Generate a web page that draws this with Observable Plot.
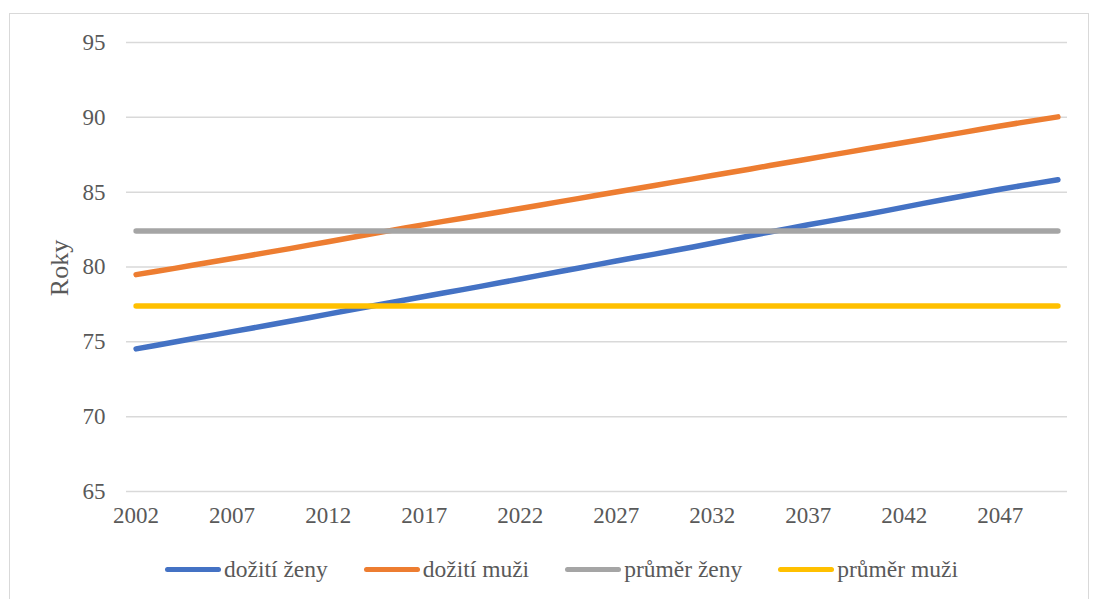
<!DOCTYPE html>
<html>
<head>
<meta charset="utf-8">
<script src="https://cdn.jsdelivr.net/npm/d3@7"></script>
<script src="https://cdn.jsdelivr.net/npm/@observablehq/plot@0.6"></script>
<style>
  html, body { margin: 0; padding: 0; background: #fff; }
  body { width: 1097px; height: 599px; position: relative; overflow: hidden;
         font-family: "Liberation Serif", "Times New Roman", serif; color: #595959; }
  #frame { position: absolute; left: 9px; top: 13px; width: 1078px; height: 600px;
           border-left: 1.5px solid #d9d9d9; border-top: 1.5px solid #d9d9d9; border-right: 1.5px solid #d9d9d9; }
  #chart { position: absolute; left: 0; top: 0; }
  #ylabel { position: absolute; left: 60px; top: 268px; font-size: 26px;
            transform: translate(-50%, -50%) rotate(-90deg); white-space: nowrap; }
  #legend { position: absolute; left: 165px; top: 556px; display: flex; gap: 36px; font-size: 23.5px; }
  .item { display: flex; align-items: center; gap: 3px; }
  .sw { width: 56px; height: 5px; border-radius: 3px; }
</style>
</head>
<body>
<div id="frame"></div>
<div id="chart"></div>
<div id="ylabel">Roky</div>
<div id="legend"></div>
<script>
// Years of the projection
const years = d3.range(2002, 2051);

// Projected life expectancy, women
const dozitiZeny = [
  74.53, 74.76, 74.99, 75.22, 75.45, 75.68, 75.91, 76.14, 76.37, 76.61,
  76.85, 77.09, 77.33, 77.56, 77.79, 78.03, 78.26, 78.49, 78.72, 78.96,
  79.20, 79.44, 79.68, 79.92, 80.16, 80.40, 80.63, 80.86, 81.10, 81.34,
  81.59, 81.84, 82.09, 82.34, 82.58, 82.82, 83.05, 83.28, 83.51, 83.75,
  84.00, 84.25, 84.49, 84.73, 84.96, 85.19, 85.41, 85.62, 85.83
];
// Projected life expectancy, men
const dozitiMuzi = [
  79.49, 79.70, 79.91, 80.13, 80.35, 80.57, 80.79, 81.01, 81.23, 81.46,
  81.69, 81.92, 82.15, 82.38, 82.61, 82.83, 83.05, 83.26, 83.47, 83.69,
  83.91, 84.13, 84.35, 84.57, 84.79, 85.01, 85.23, 85.45, 85.67, 85.89,
  86.11, 86.33, 86.55, 86.78, 87.00, 87.22, 87.44, 87.66, 87.88, 88.10,
  88.32, 88.54, 88.76, 88.98, 89.20, 89.42, 89.63, 89.83, 90.03
];
// Averages (constant over the period)
const prumerZeny = 82.4;
const prumerMuzi = 77.4;

const seriesNames = ["dožití ženy", "dožití muži", "průměr ženy", "průměr muži"];
const seriesColors = ["#4472C4", "#ED7D31", "#A5A5A5", "#FFC000"];

const xTicks = d3.range(2002, 2050, 5);
const yTicks = [65, 70, 75, 80, 85, 90, 95];

const rows = [];
years.forEach((y, i) => {
  rows.push({year: y, value: dozitiZeny[i], series: seriesNames[0]});
  rows.push({year: y, value: dozitiMuzi[i], series: seriesNames[1]});
  rows.push({year: y, value: prumerZeny, series: seriesNames[2]});
  rows.push({year: y, value: prumerMuzi, series: seriesNames[3]});
});

const chart = Plot.plot({
  width: 1097,
  height: 545,
  marginLeft: 126,
  marginRight: 30,
  marginTop: 42,
  marginBottom: 54,
  style: {fontFamily: "'Liberation Serif', 'Times New Roman', serif", fontSize: "23px", color: "#595959", background: "transparent"},
  x: {domain: [2001.5, 2050.5]},
  y: {domain: [65, 95]},
  color: {domain: seriesNames, range: seriesColors},
  marks: [
    Plot.gridY(yTicks, {stroke: "#d9d9d9", strokeOpacity: 1, strokeWidth: 1.5}),
    Plot.axisY(yTicks, {tickSize: 0, tickPadding: 21, label: null, fill: "#595959"}),
    Plot.axisX(xTicks, {tickSize: 0, tickPadding: 15, label: null, tickFormat: d => String(d), fill: "#595959"}),
    Plot.line(rows, {x: "year", y: "value", z: "series", stroke: "series", strokeWidth: 5.5, strokeLinecap: "round", strokeLinejoin: "round"})
  ]
});
document.getElementById("chart").appendChild(chart);

const legend = document.getElementById("legend");
seriesNames.forEach((name, i) => {
  const item = document.createElement("div");
  item.className = "item";
  const sw = document.createElement("div");
  sw.className = "sw";
  sw.style.background = seriesColors[i];
  const label = document.createElement("span");
  label.textContent = name;
  item.appendChild(sw);
  item.appendChild(label);
  legend.appendChild(item);
});
</script>
</body>
</html>
